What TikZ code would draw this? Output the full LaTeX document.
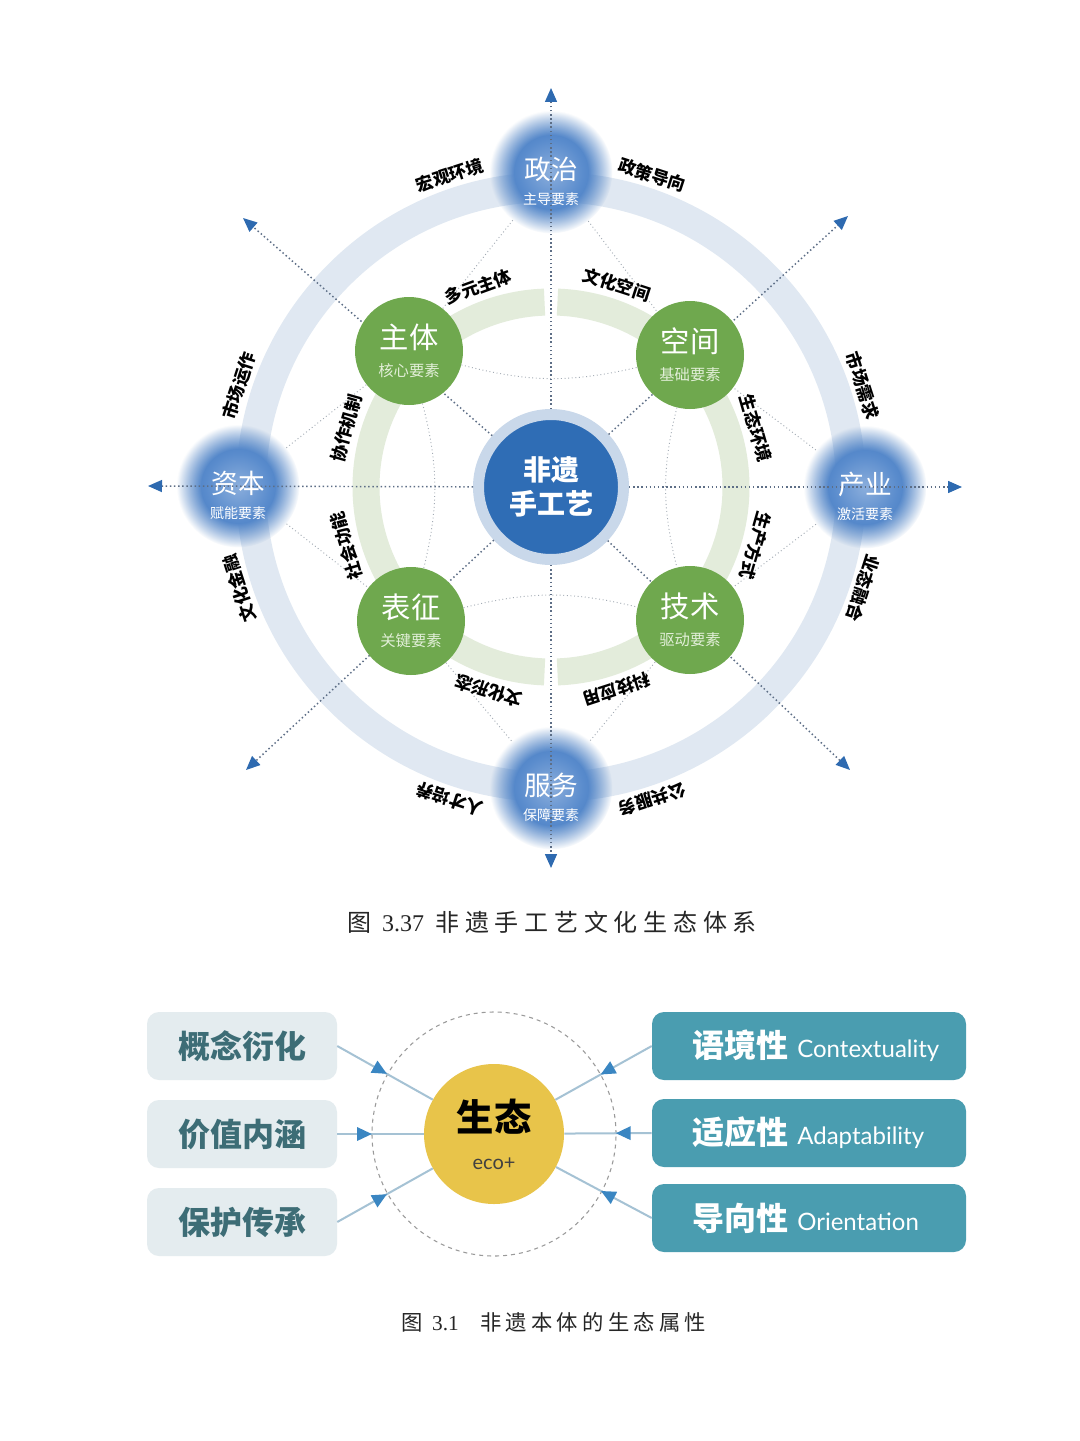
\documentclass[tikz,border=0pt]{standalone}
\usepackage{fontspec}
\setmainfont{Noto Sans CJK SC}
\newfontfamily\latfont{Lato}
\newfontfamily\numfont{Liberation Serif}
\usetikzlibrary{arrows.meta,calc,fadings,backgrounds,decorations.markings}

\definecolor{hubblue}{HTML}{2F6DB5}
\definecolor{hubring}{HTML}{C9D8EA}
\definecolor{ringblue}{HTML}{E0E8F2}
\definecolor{ringgreen}{HTML}{E3ECDB}
\definecolor{leafgreen}{HTML}{6FA84E}
\definecolor{leafsub}{HTML}{E2EFD8}
\definecolor{glowin}{HTML}{8BAEDC}
\definecolor{glowmid}{HTML}{5A8CCD}
\definecolor{glowout}{HTML}{3D75BD}
\definecolor{tipblue}{HTML}{2E6AB0}
\definecolor{axisgray}{HTML}{5D6E86}
\definecolor{linkgray}{HTML}{A3ABB5}
\definecolor{paleteal}{HTML}{E4ECEF}
\definecolor{darkteal}{HTML}{3D6D76}
\definecolor{boxteal}{HTML}{4A9DB0}
\definecolor{ecogold}{HTML}{E8C44A}
\definecolor{lineblue}{HTML}{A5C2D4}
\definecolor{arrowblue}{HTML}{3A86C2}
\definecolor{halogray}{HTML}{9A9A9A}

\pgfdeclareradialshading{glowshade}{\pgfpointorigin}{color(0bp)=(glowin); color(13bp)=(glowmid); color(25bp)=(glowout); color(50bp)=(glowout)}
\pgfdeclareradialshading{glowfadeshade}{\pgfpointorigin}{color(0bp)=(white); color(15bp)=(white); color(25bp)=(black); color(50bp)=(black)}
\pgfdeclarefading{glowfade}{\pgfuseshading{glowfadeshade}}

\begin{document}
\begin{tikzpicture}
[x=0.75pt, y=0.75pt, every node/.style={inner sep=0pt},
 glow/.style={circle, minimum size=92pt, shade, shading=glowshade, path fading=glowfade},
 gtext/.style={text=white, align=center, yshift=-7pt, font=\fontsize{10.5}{19}\selectfont},
 leaf/.style={circle, minimum size=81pt, fill=leafgreen, text=white, align=center, font=\fontsize{11.5}{21}\selectfont},
 ringlbl/.style={font=\bfseries\fontsize{13}{14}\selectfont},
 axis/.style={axisgray, dotted, line width=1.1pt, -{Triangle[length=10.5pt, width=9pt, color=tipblue]}},
 link/.style={linkgray, dotted, line width=0.7pt},
 lbox/.style={rounded corners=9pt, fill=paleteal, minimum width=142.5pt, minimum height=51pt, text=darkteal, font=\bfseries\fontsize{24}{28}\selectfont},
 rbox/.style={rounded corners=9pt, fill=boxteal, minimum width=235.5pt, minimum height=51pt, text width=175.5pt, text=white, font=\bfseries\fontsize{24}{28}\selectfont},
 conn/.style={lineblue, line width=1.5pt, postaction={decorate}, decoration={markings, mark=at position #1 with {\arrow{Triangle[length=11pt, width=10pt, color=arrowblue]}}}}]
\useasboundingbox (0,0) rectangle (1080,-1441);

\node (zz) [glow, label={[gtext]center:{{\fontsize{20}{22}\selectfont 政治}\\主导要素}}] at (551,-172) {};
\node (zb) [glow, label={[gtext]center:{{\fontsize{20}{22}\selectfont 资本}\\赋能要素}}] at (238,-486) {};
\node (cy) [glow, label={[gtext]center:{{\fontsize{20}{22}\selectfont 产业}\\激活要素}}] at (865,-487) {};
\node (fw) [glow, label={[gtext]center:{{\fontsize{20}{22}\selectfont 服务}\\保障要素}}] at (551,-788) {};

\node (hub) [circle, minimum size=108.75pt, fill=hubblue, draw=hubring, line width=8.25pt, text=white, align=center, font=\bfseries\fontsize{21}{25}\selectfont] at (551,-487) {非遗\\手工艺};

\coordinate (tN) at (551,-88);
\coordinate (tS) at (551,-868);
\coordinate (tW) at (148,-486);
\coordinate (tE) at (962,-487);
\coordinate (tNW) at (243,-218);
\coordinate (tNE) at (848,-216);
\coordinate (tSW) at (246,-770);
\coordinate (tSE) at (850,-770);
\foreach \p in {tN,tS,tW,tE,tNW,tNE,tSW,tSE}
  \draw [axis] (hub) -- (\p);

\node (zt) [leaf] at (409,-351) {{\fontsize{22}{24}\selectfont 主体}\\{\color{leafsub}核心要素}};
\node (kj) [leaf] at (690,-355) {{\fontsize{22}{24}\selectfont 空间}\\{\color{leafsub}基础要素}};
\node (bz) [leaf] at (411,-621) {{\fontsize{22}{24}\selectfont 表征}\\{\color{leafsub}关键要素}};
\node (js) [leaf] at (690,-620) {{\fontsize{22}{24}\selectfont 技术}\\{\color{leafsub}驱动要素}};

\foreach \a/\t [count=\i] in {108/宏观环境, 72/政策导向, 162/市场运作, 18/市场需求, 198/文化金融, -18/业态融合, 252/人才培养, 288/公共服务}
  \node (out\i) [ringlbl, rotate=\a-90] at ($(hub)+(\a:328)$) {\t};
\foreach \a/\t [count=\i] in {110/多元主体, 72/文化空间, 164/协作机制, 16/生态环境, 196/社会功能, -16/生产方式, 253/文化形态, 288/科技应用}
  \node (in\i) [ringlbl, rotate=\a-90] at ($(hub)+(\a:213)$) {\t};

\begin{scope}[on background layer]
\fill [white] (0,0) rectangle (1080,-1441);
\draw [ringblue, line width=22.5pt] (hub.center) circle (300);
\draw [ringgreen, line width=20.25pt] ($(hub)+(92:185)$) arc [start angle=92, end angle=268, radius=185];
\draw [ringgreen, line width=20.25pt] ($(hub)+(-88:185)$) arc [start angle=-88, end angle=88, radius=185];
\draw [link] (zz) -- (zt);
\draw [link] (zz) -- (kj);
\draw [link] (zb) -- (zt);
\draw [link] (zb) -- (bz);
\draw [link] (cy) -- (kj);
\draw [link] (cy) -- (js);
\draw [link] (fw) -- (bz);
\draw [link] (fw) -- (js);
\draw [link] (zt) to [bend right=14] (kj);
\draw [link] (bz) to [bend left=14] (js);
\draw [link] (zt) to [bend left=14] (bz);
\draw [link] (kj) to [bend right=14] (js);
\end{scope}

\node (cap1) [font=\fontsize{18}{20}\selectfont\addfontfeature{LetterSpace=24}, text=black!85] at (552,-922) {图 {\numfont 3.37} 非遗手工艺文化生态体系};

\node (halo) [circle, minimum size=183pt, draw=halogray, dashed, line width=0.8pt] at (494,-1134) {};
\node (eco) [circle, minimum size=105pt, fill=ecogold, align=center, text=black!75, font=\latfont\fontsize{15}{28.5}\selectfont] at (494,-1134) {{\rmfamily\bfseries\fontsize{28}{30}\selectfont\color{black}生态}\\eco+};

\node (l1) [lbox] at (242,-1046) {概念衍化};
\node (l2) [lbox] at (242,-1134) {价值内涵};
\node (l3) [lbox] at (242,-1222) {保护传承};
\node (r1) [rbox] at (809,-1046) {\hbox{语境性\hspace{7pt}{\latfont\mdseries\fontsize{18}{20}\selectfont Contextuality}}};
\node (r2) [rbox] at (809,-1133) {\hbox{适应性\hspace{7pt}{\latfont\mdseries\fontsize{18}{20}\selectfont Adaptability}}};
\node (r3) [rbox] at (809,-1218) {\hbox{导向性\hspace{7pt}{\latfont\mdseries\fontsize{18}{20}\selectfont Orientation}}};

\draw [conn=0.52] (l1.east) -- (eco);
\draw [conn=0.40] (l2.east) -- (eco);
\draw [conn=0.52] (l3.east) -- (eco);
\draw [conn=0.53] (r1.west) -- (eco);
\draw [conn=0.41] (r2.west) -- (eco);
\draw [conn=0.53] (r3.west) -- (eco);

\node (cap2) [font=\fontsize{16}{20}\selectfont\addfontfeature{LetterSpace=20}, text=black!85] at (554,-1322) {图 {\numfont 3.1}\quad 非遗本体的生态属性};
\end{tikzpicture}
\end{document}
